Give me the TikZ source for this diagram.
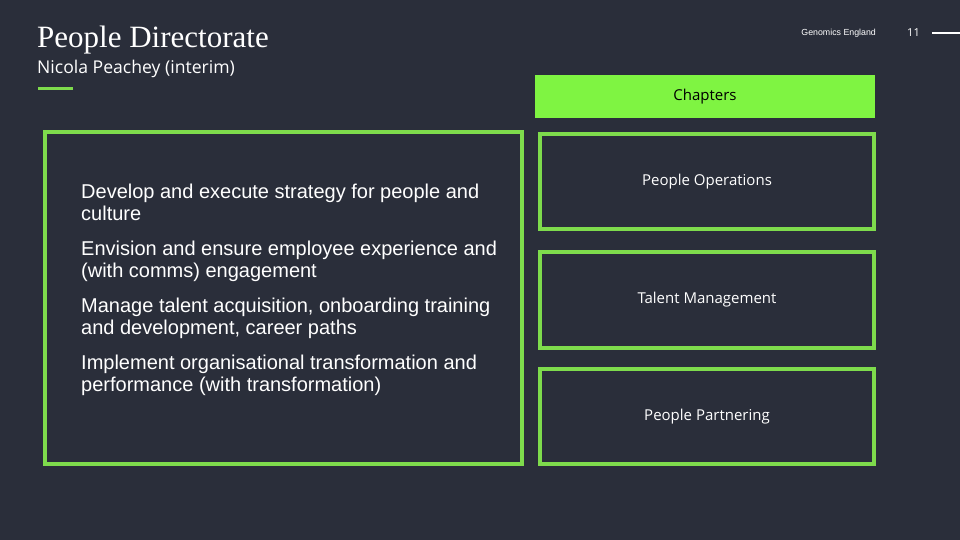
\documentclass[tikz,border=0pt]{standalone}
\usepackage{fontspec}
\setmainfont{Liberation Serif}
\newfontfamily\bodyfont{Liberation Sans}
\newfontfamily\uifont{Open Sans}
\usepackage{tikz}
\usetikzlibrary{positioning}
\definecolor{slate}{HTML}{2A2E3A}
\definecolor{lime}{HTML}{7FF442}
\definecolor{leaf}{HTML}{7EDB4C}
\tikzset{
	framebox/.style={
		draw=leaf, line width=4pt, rectangle,
		inner sep=0pt, text=white
	},
	chapter/.style={
		framebox, minimum width=334pt, minimum height=95.5pt,
		font=\uifont\fontsize{15}{18}\selectfont
	},
	point/.style={
		anchor=north west, inner sep=0pt, align=left, text=white,
		font=\bodyfont\fontsize{20}{22}\selectfont
	},
	heading/.style={anchor=base west, inner sep=0pt, text=white}
}

\begin{document}
\begin{tikzpicture}[x=1pt, y=-1pt]
				\fill[slate] (0,0) rectangle (960,540);
				\useasboundingbox (0,0) rectangle (960,540);
				% header
				\node[heading, font=\fontsize{31}{35}\selectfont] (title) at (37,48) {People Directorate};
				\node[heading, font=\uifont\fontsize{17.6}{21}\selectfont] (lead) at (37,74) {Nicola Peachey (interim)};
				\draw[leaf, line width=3pt] (38,89) -- (73,89);
				\node[anchor=base east, inner sep=0pt, text=white, font=\bodyfont\fontsize{8.8}{10}\selectfont] (brand) at (876,36) {Genomics England};
				\node[anchor=base east, inner sep=0pt, text=white, font=\uifont\fontsize{11}{13}\selectfont] (page) at (920,37) {11};
				\draw[white, line width=1.5pt] (932,33) -- (960,33);
				% remit
				\node[framebox, minimum width=477pt, minimum height=332pt] (remit) at (283.5,298) {};
				\foreach \i/\y/\txt in {1/183.5/{Develop and execute strategy for people and\\culture},
					2/240.5/{Envision and ensure employee experience and\\(with comms) engagement},
					3/297.5/{Manage talent acquisition, onboarding training\\and development, career paths},
					4/354.5/{Implement organisational transformation and\\performance (with transformation)}}
					\node[point] (p\i) at (81,\y) {\txt};
				% chapters
				\node[fill=lime, minimum width=340pt, minimum height=43pt, inner sep=0pt, font=\uifont\fontsize{15}{18}\selectfont] (chapters) at (705,97) {Chapters};
				\node[chapter] (ops) at (707,181.5) {People Operations};
				\node[chapter] (talent) [below=19pt of ops] {Talent Management};
				\node[chapter] (partner) [below=17pt of talent] {People Partnering};
			\end{tikzpicture}
\end{document}
